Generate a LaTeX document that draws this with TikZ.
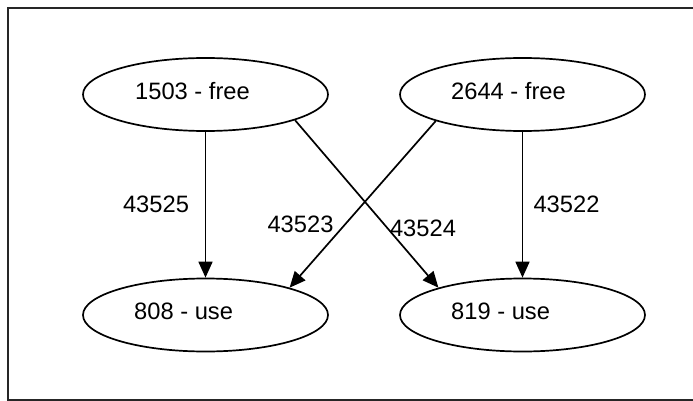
\documentclass[tikz,border=0pt]{standalone}
\usepackage{fontspec}
\setmainfont{Liberation Sans}
\usetikzlibrary{positioning, shapes.geometric, arrows.meta}

\begin{document}
\begin{tikzpicture}[
    x=1pt, y=-1pt,
    every node/.style={font=\fontsize{23.7}{28}\selectfont, inner sep=0pt},
    nodo/.style={ellipse, draw, line width=1.7pt, minimum width=245pt, minimum height=73pt},
    texto/.style={anchor=base west},
    peso/.style={anchor=center},
    flecha/.style={line width=1.7pt, -{Triangle[length=16pt, width=14pt]}}
  ]
  \useasboundingbox (0,0) rectangle (693,401);

  % ---------------- Marco ----------------
  \draw[line width=2pt, black!85] (8,8) rectangle (705,400);

  % ---------------- Nodos libres ----------------
  \node (n1503) [nodo] at (205.5,94.5) {};
  \node (t1503) [texto] at (135,100) {1503 - free};
  \node (n2644) [nodo] at (522.5,94.5) {};
  \node (t2644) [texto] at (451,99.5) {2644 - free};

  % ---------------- Nodos en uso ----------------
  \node (n808) [nodo] at (205.5,315) {};
  \node (t808) [texto] at (134,319) {808 - use};
  \node (n819) [nodo] at (522.5,315) {};
  \node (t819) [texto] at (451,319) {819 - use};

  % Aristas
  \draw[flecha] (n1503.south) -- (n808.north);
  \draw[flecha] (n1503.-16.8) -- (n819.162);
  \draw[flecha] (n2644.197.7) -- (n808.18);
  \draw[flecha] (n2644.south) -- (n819.north);

  % Etiquetas de las aristas
  \node (p43525) [peso] at (156,204) {43525};
  \node (p43523) [peso] at (300.5,224) {43523};
  \node (p43524) [peso] at (423,228) {43524};
  \node (p43522) [peso] at (566.5,204) {43522};

\end{tikzpicture}
\end{document}
